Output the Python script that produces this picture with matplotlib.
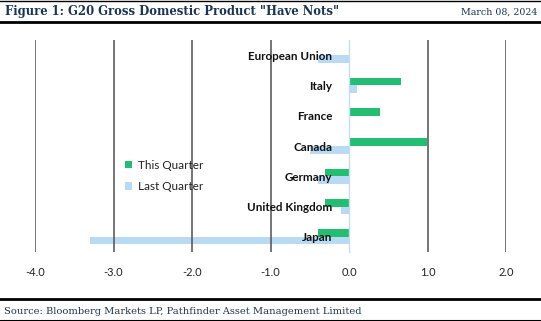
import numpy as np
import matplotlib
matplotlib.use('Agg')
import matplotlib.pyplot as plt
from matplotlib.lines import Line2D

countries = ['European Union', 'Italy', 'France', 'Canada', 'Germany', 'United Kingdom', 'Japan']
this_quarter = [0.0, 0.66, 0.40, 0.99, -0.3, -0.3, -0.4]
last_quarter = [-0.4, 0.1, 0.0, -0.5, -0.4, -0.1, -3.3]
xticks = [-4.0, -3.0, -2.0, -1.0, 0.0, 1.0, 2.0]

navy = '#1B3557'
green = '#23BE72'
blue = '#B8DAF4'

plt.rcParams['font.family'] = ['Lato', 'DejaVu Sans']

fig = plt.figure(figsize=(5.41, 3.21), dpi=100)
ax = fig.add_axes([35 / 541, 1 - 252 / 321, (506 - 35) / 541, (252 - 40) / 321])

y = np.arange(len(countries))
h = 0.25
ax.barh(y - h / 2, this_quarter, height=h, color=green, label='This Quarter', zorder=1)
ax.barh(y + h / 2, last_quarter, height=h, color=blue, label='Last Quarter', zorder=1)

ax.set_xlim(-4, 2)
ax.set_ylim(len(countries) - 0.5, -0.5)
ax.set_xticks(xticks)
ax.set_xticklabels([f'{v:.1f}' for v in xticks], fontsize=8, color='#222222')
ax.tick_params(axis='x', length=0, pad=11)

# category labels sit next to the zero axis
ax.spines['left'].set_position(('data', 0))
ax.spines['left'].set_color('#C5DDF0')
ax.spines['left'].set_linewidth(1)
for s in ['top', 'right', 'bottom']:
    ax.spines[s].set_visible(False)
ax.set_yticks(y)
ax.set_yticklabels(countries, fontsize=8.4, fontweight='bold', color='#111111')
ax.tick_params(axis='y', length=0, pad=12)

ax.set_axisbelow(False)
ax.xaxis.grid(True, color='#505050', linewidth=1.1)
ax.yaxis.grid(False)
for gl, v in zip(ax.get_xgridlines(), xticks):
    if v == 0.0:
        gl.set_visible(False)

leg = ax.legend(loc='center left', bbox_to_anchor=(120 / 541, 1 - 176 / 321),
                bbox_transform=fig.transFigure, frameon=False, fontsize=8.5,
                handlelength=0.65, handleheight=0.65, handletextpad=0.5,
                labelspacing=0.9, borderaxespad=0)
for t in leg.get_texts():
    t.set_color('#222222')

# header and footer
fig.text(5 / 541, 1 - 12 / 321, 'Figure 1: G20 Gross Domestic Product "Have Nots"',
         family='DejaVu Serif', fontweight='bold', fontsize=8.4, color=navy, va='center')
fig.text(537 / 541, 1 - 12 / 321, 'March 08, 2024', family='DejaVu Serif',
         fontsize=6.8, color=navy, va='center', ha='right')
fig.text(4 / 541, 1 - 312 / 321, 'Source: Bloomberg Markets LP, Pathfinder Asset Management Limited',
         family='DejaVu Serif', fontsize=7.1, color=navy, va='center')
for yy, lw in [(0.5, 1.0), (21.5, 2.0), (299, 2.0), (320.5, 1.5)]:
    fig.add_artist(Line2D([0, 1], [1 - yy / 321] * 2, color='black', linewidth=lw,
                          transform=fig.transFigure))

fig.savefig('out.png', dpi=100)
